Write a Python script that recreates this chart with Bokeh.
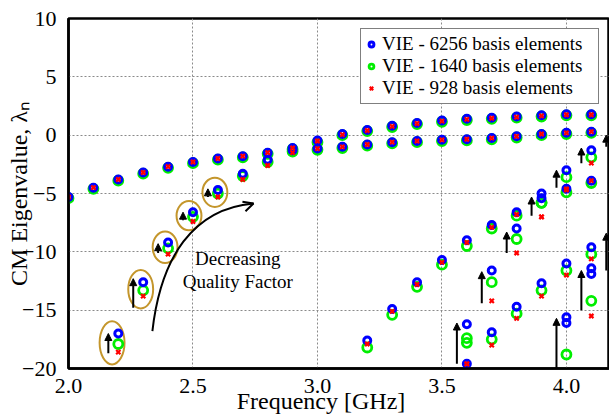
from bokeh.plotting import figure
from bokeh.models import (Range1d, Legend, LegendItem, Arrow, NormalHead, OpenHead,
                          Label, FixedTicker, PrintfTickFormatter)
from bokeh.embed import file_html
from bokeh.resources import INLINE

# ---------------- data ----------------
x_ticks = [2.0, 2.5, 3.0, 3.5, 4.0]
y_ticks = [-20, -15, -10, -5, 0, 5, 10]

# Mode B: starts at -5.3 (2.0 GHz), flattens near 0
freq_B = [2.0, 2.1, 2.2, 2.3, 2.4, 2.5, 2.6, 2.7, 2.8, 2.9, 3.0, 3.1, 3.2, 3.3, 3.4, 3.5, 3.6, 3.7, 3.8, 3.9, 4.0, 4.1]
vie6256_B = [-5.3, -4.5, -3.8, -3.2, -2.7, -2.3, -2.0, -1.8, -1.5, -1.1, -1.15, -1.0, -0.8, -0.6, -0.5, -0.4, -0.35, -0.25, -0.1, 0.1, 0.2, 0.3]
vie1640_B = [-5.4, -4.6, -3.9, -3.3, -2.8, -2.4, -2.1, -1.9, -1.6, -1.2, -1.25, -1.1, -0.9, -0.7, -0.6, -0.5, -0.45, -0.35, -0.2, 0.0, 0.1, 0.2]
vie928_B = [-5.3, -4.5, -3.8, -3.2, -2.7, -2.3, -2.0, -1.8, -1.5, -1.1, -1.15, -1.0, -0.8, -0.6, -0.5, -0.4, -0.35, -0.25, -0.1, 0.1, 0.2, 0.3]

# Mode A: the circled mode, rising from -17 (2.2 GHz) to +1.8
freq_A = [2.2, 2.3, 2.4, 2.5, 2.6, 2.7, 2.8, 2.9, 3.0, 3.1, 3.2, 3.3, 3.4, 3.5, 3.6, 3.7, 3.8, 3.9, 4.0, 4.1]
vie6256_A = [-17.0, -12.6, -9.2, -6.6, -4.7, -3.3, -2.1, -1.3, -0.45, 0.1, 0.45, 0.8, 1.05, 1.25, 1.4, 1.5, 1.6, 1.7, 1.8, 1.8]
vie1640_A = [-17.9, -13.3, -9.7, -7.0, -5.0, -3.5, -2.3, -1.4, -0.6, 0.0, 0.35, 0.7, 0.95, 1.15, 1.3, 1.4, 1.5, 1.6, 1.7, 1.7]
vie928_A = [-18.6, -13.8, -10.2, -7.4, -5.3, -3.8, -2.6, -1.5, -0.5, 0.05, 0.4, 0.75, 1.0, 1.2, 1.35, 1.45, 1.55, 1.65, 1.75, 1.75]

# Mode C: rising from -17.6 (3.2 GHz)
freq_C = [3.2, 3.3, 3.4, 3.5, 3.6, 3.7, 3.8, 3.9, 4.0, 4.1]
vie6256_C = [-17.6, -14.9, -12.6, -10.7, -9.0, -7.7, -6.6, -5.0, -3.0, -1.3]
vie1640_C = [-18.2, -15.4, -13.0, -11.1, -9.5, -8.0, -6.9, -5.8, -3.6, -1.9]
vie928_C = [-17.9, -15.1, -12.8, -10.9, -9.2, -7.9, -6.8, -7.0, -4.6, -2.4]

# Mode D
freq_D = [3.6, 3.7, 3.8, 3.9, 4.0, 4.1]
vie6256_D = [-16.2, -11.6, -8.0, -5.4, -4.6, -3.9]
vie1640_D = [-17.4, -12.6, -8.9, -5.8, -4.9, -4.1]
vie928_D = [-19.6, -14.2, -10.1, -7.0, -4.7, -3.9]

# Mode E
freq_E = [3.6, 3.7, 3.8, 3.9, 4.0, 4.1]
vie6256_E = [-19.6, -16.9, -14.7, -12.7, -11.0, -9.6]
vie1640_E = [-17.8, -17.5, -15.3, -13.3, -11.6, -10.2]
vie928_E = [-19.6, -18.0, -15.7, -13.8, -12.0, -10.6]

# Mode F
freq_F = [4.0, 4.0, 4.1, 4.1]
vie6256_F = [-15.6, -16.1, -11.4, -11.9]
freq_F_1640 = [4.0, 4.1]
vie1640_F = [-18.8, -14.2]
freq_F_928 = [4.1]
vie928_F = [-15.5]

# Shift arrows (from coarse mesh value up to fine mesh value)
arrow_freq = [2.2, 2.3, 2.4, 2.5, 2.6, 3.6, 3.7, 3.8, 3.9, 4.0, 4.1, 4.1, 4.0, 4.2, 4.2]
arrow_from = [-18.7, -14.8, -10.1, -7.3, -5.3, -19.6, -14.4, -10.1, -6.9, -4.5, -2.4, -15.0, -20.2, -1.0, -11.6]
arrow_to = [-17.0, -12.3, -9.3, -6.6, -4.6, -16.1, -11.7, -8.3, -5.3, -3.0, -1.1, -11.6, -15.7, 0.0, -8.4]

# Circled points
circ_freq = [2.175, 2.29, 2.388, 2.484, 2.588]
circ_val = [-17.8, -13.2, -9.6, -6.9, -4.9]
circ_h = [3.7, 3.3, 2.7, 2.5, 2.5]

# Decreasing-Q curved arrow
qarrow_x = [2.337, 2.37, 2.50, 2.743]   # start, ctrl0, ctrl1, end
qarrow_y = [-16.8, -10.5, -6.3, -5.85]

labels = ["VIE - 6256 basis elements", "VIE - 1640 basis elements", "VIE - 928 basis elements"]

# ---------------- figure ----------------
SERIF = "Liberation Serif"
p = figure(frame_width=541, frame_height=350, x_range=Range1d(2.0, 4.173), y_range=Range1d(-20, 10),
           output_backend="svg", toolbar_location=None, title=None,
           min_border_left=68, min_border_top=18, min_border_right=0, min_border_bottom=48)
p.background_fill_color = "white"
p.border_fill_color = "white"
p.outline_line_color = "black"
p.outline_line_width = 2.5

for ax in (p.xaxis[0], p.yaxis[0]):
    ax.major_tick_line_color = None
    ax.minor_tick_line_color = None
    ax.axis_line_width = 2.5
    ax.major_label_text_font = SERIF
    ax.major_label_text_font_size = "22px"
    ax.major_label_text_color = "black"
    ax.axis_label_text_font = SERIF
    ax.axis_label_text_font_style = "normal"
    ax.axis_label_text_font_size = "24px"
    ax.axis_label_text_color = "black"

p.xaxis.ticker = FixedTicker(ticks=x_ticks)
p.xaxis.formatter = PrintfTickFormatter(format="%.1f")
p.yaxis.ticker = FixedTicker(ticks=y_ticks)
p.yaxis.axis_label = "CM Eigenvalue, λₙ"
# trailing no-break spaces shift the centred title left, as in the reference
p.xaxis.axis_label = "Frequency [GHz]" + "\u00a0" * 6
p.xaxis.major_label_standoff = 4
p.yaxis.major_label_standoff = 6
p.yaxis.axis_label_standoff = -13
p.xaxis.axis_label_standoff = -8

for g in (p.xgrid[0], p.ygrid[0]):
    g.grid_line_color = "#8a8a8a"
    g.grid_line_dash = "2 2"
    g.grid_line_width = 1

# ellipses
p.ellipse(x=circ_freq, y=circ_val, width=0.1, height=circ_h, fill_color=None,
          line_color="#C4962C", line_width=2)

# arrows
offset = 0.04
for f, a, b in zip(arrow_freq, arrow_from, arrow_to):
    p.add_layout(Arrow(end=NormalHead(size=7, fill_color="black", line_color="black"),
                       x_start=f - offset, y_start=a, x_end=f - offset, y_end=b,
                       line_width=2, line_color="black"))

# curved arrow
p.bezier(x0=[qarrow_x[0]], y0=[qarrow_y[0]], cx0=[qarrow_x[1]], cy0=[qarrow_y[1]],
         cx1=[qarrow_x[2]], cy1=[qarrow_y[2]], x1=[qarrow_x[3]], y1=[qarrow_y[3]],
         line_color="black", line_width=2)
p.add_layout(Arrow(end=OpenHead(size=10, line_width=2, line_color="black"),
                   x_start=qarrow_x[3] - 0.05, y_start=qarrow_y[3] - 0.34,
                   x_end=qarrow_x[3], y_end=qarrow_y[3], line_width=2, line_alpha=0))
p.add_layout(Label(x=2.68, y=-10.6, text="Decreasing", text_align="center", text_baseline="middle",
                   text_font=SERIF, text_font_size="19px", text_color="black"))
p.add_layout(Label(x=2.68, y=-12.55, text="Quality Factor", text_align="center", text_baseline="middle",
                   text_font=SERIF, text_font_size="19px", text_color="black"))

# series
f1640 = freq_B + freq_A + freq_C + freq_D + freq_E + freq_F_1640
v1640 = vie1640_B + vie1640_A + vie1640_C + vie1640_D + vie1640_E + vie1640_F
f6256 = freq_B + freq_A + freq_C + freq_D + freq_E + freq_F
v6256 = vie6256_B + vie6256_A + vie6256_C + vie6256_D + vie6256_E + vie6256_F
f928 = freq_B + freq_A + freq_C + freq_D + freq_E + freq_F_928
v928 = vie928_B + vie928_A + vie928_C + vie928_D + vie928_E + vie928_F

r_g = p.scatter(f1640, v1640, marker="circle", size=9, fill_color=None, line_color="#00EE00", line_width=2.8)
r_b = p.scatter(f6256, v6256, marker="circle", size=7, fill_color=None, line_color="#0000FF", line_width=3)
r_r = p.scatter(f928, v928, marker="x", size=6, line_color="#FF0000", line_width=2.2)

legend = Legend(items=[LegendItem(label=labels[0], renderers=[r_b]),
                       LegendItem(label=labels[1], renderers=[r_g]),
                       LegendItem(label=labels[2], renderers=[r_r])],
                location="top_right")
legend.label_text_font = SERIF
legend.label_text_font_size = "19px"
legend.label_text_color = "black"
legend.label_height = 20
legend.label_width = 212
legend.glyph_height = 20
legend.glyph_width = 12
legend.label_standoff = 5
legend.spacing = 0
legend.padding = 4
legend.margin = 10
legend.border_line_color = "black"
legend.border_line_width = 1.2
legend.background_fill_alpha = 1
p.add_layout(legend)

open("out.html", "w").write(file_html(p, INLINE))
